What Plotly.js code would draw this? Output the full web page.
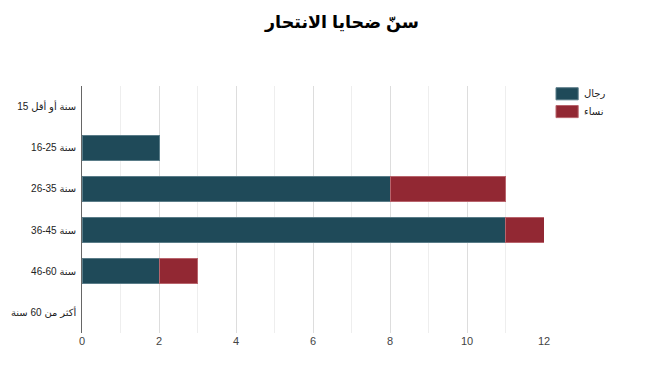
<!DOCTYPE html>
<html>
<head>
<meta charset="utf-8">
<script src="https://cdn.plot.ly/plotly-3.0.1.min.js"></script>
<style>html,body{margin:0;padding:0;background:#fff;}#chart{width:660px;height:377px;}</style>
</head>
<body>
<div id="chart"></div>
<script>
var categories = ["سنة أو أقل 15", "16-25 سنة", "26-35 سنة", "36-45 سنة", "46-60 سنة", "أكثر من 60 سنة"];
var menValues = [0, 2, 8, 11, 2, 0];
var womenValues = [0, 0, 3, 1, 1, 0];
var seriesNames = ["رجال", "نساء"];
var tickValues = [0, 2, 4, 6, 8, 10, 12];

var menColor = "#1f4a59";
var womenColor = "#922833";
var fontFam = "Arial, 'Liberation Sans', 'DejaVu Sans', sans-serif";

function edgeWidths(vals){ return vals.map(function(v){ return v > 0 ? 1 : 0; }); }

var traces = [
  {type: "bar", orientation: "h", name: seriesNames[0], y: categories, x: menValues,
   marker: {color: menColor, line: {color: "#5a7c88", width: edgeWidths(menValues)}}, showlegend: false, hoverinfo: "x+name"},
  {type: "bar", orientation: "h", name: seriesNames[1], y: categories, x: womenValues,
   marker: {color: womenColor, line: {color: "#b8646c", width: edgeWidths(womenValues)}}, showlegend: false, hoverinfo: "x+name"}
];

var minorVals = [1, 3, 5, 7, 9, 11];
var shapes = [];
minorVals.forEach(function(v){
  shapes.push({type: "line", xref: "x", yref: "paper", x0: v, x1: v, y0: 0, y1: 1,
    line: {color: "#eeeeee", width: 1}, layer: "below"});
});
// legend swatches
shapes.push({type: "rect", xref: "paper", yref: "paper", x0: 1.026, x1: 1.074, y0: 0.944, y1: 0.993,
  fillcolor: menColor, line: {color: "#5a7c88", width: 1}});
shapes.push({type: "rect", xref: "paper", yref: "paper", x0: 1.026, x1: 1.074, y0: 0.872, y1: 0.921,
  fillcolor: womenColor, line: {color: "#b8646c", width: 1}});

var annotations = [
  {xref: "paper", yref: "paper", x: 1.083, y: 0.968, xanchor: "left", yanchor: "middle",
   text: seriesNames[0], showarrow: false, font: {family: fontFam, size: 10, color: "#222"}},
  {xref: "paper", yref: "paper", x: 1.083, y: 0.896, xanchor: "left", yanchor: "middle",
   text: seriesNames[1], showarrow: false, font: {family: fontFam, size: 10, color: "#222"}}
];

var layout = {
  width: 660, height: 377,
  margin: {l: 82, r: 116, t: 86, b: 44},
  paper_bgcolor: "#fff", plot_bgcolor: "#fff",
  font: {family: fontFam, size: 11, color: "#222"},
  title: {text: "<b>سنّ ضحايا الانتحار</b>", x: 342/660, xanchor: "center", xref: "container",
          y: 1 - 22/377, yanchor: "middle", yref: "container", font: {family: fontFam, size: 17.5, color: "#000"}},
  barmode: "stack",
  bargap: 0.39,
  showlegend: false,
  xaxis: {range: [0, 12], tickvals: tickValues, ticktext: tickValues.map(String),
          showgrid: true, gridcolor: "#dddddd", gridwidth: 1, zeroline: false,
          showline: false, ticks: "", tickfont: {family: fontFam, size: 11, color: "#444"}, fixedrange: true},
  yaxis: {autorange: "reversed", showgrid: false, zeroline: false, showline: true, linecolor: "#666", linewidth: 1,
          ticks: "", ticksuffix: " ", tickfont: {family: fontFam, size: 10, color: "#222"}, fixedrange: true},
  shapes: shapes,
  annotations: annotations
};

Plotly.newPlot("chart", traces, layout, {displayModeBar: false, staticPlot: true});
</script>
</body>
</html>
